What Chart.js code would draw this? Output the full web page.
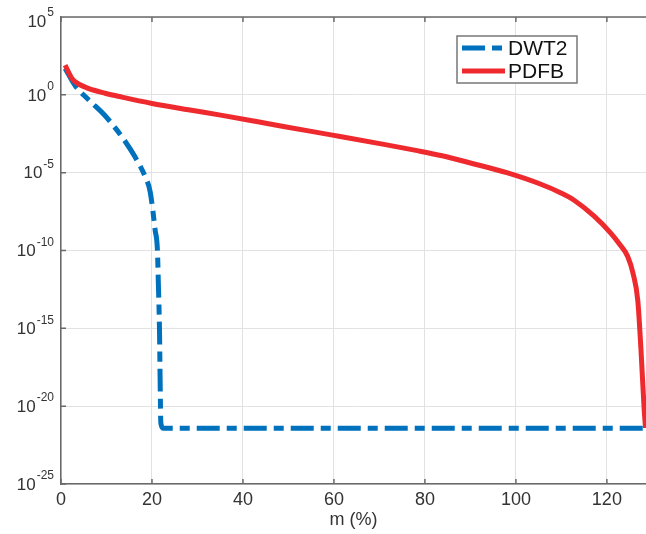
<!DOCTYPE html>
<html>
<head>
<meta charset="utf-8">
<script src="https://cdn.jsdelivr.net/npm/chart.js@4/dist/chart.umd.min.js"></script>
<style>
  body { margin: 0; background: #fff; }
  canvas { display: block; }
</style>
</head>
<body>
<canvas id="chart-1" width="646" height="534"></canvas>
<script>
// m (%) and values for each transform
const mDwt2 = [0.9, 3.1, 6, 9.7, 13.4, 16.3, 18.5, 19.6, 20.7, 21.2, 21.4, 21.65, 21.8, 21.95, 22.5, 128.6];
const dwt2 = [50, 4, 0.5, 0.045, 2e-3, 1e-4, 5.5e-6, 6e-7, 2e-9, 1e-10, 8e-13, 8e-16, 3e-19, 8e-22, 3.8e-22, 3.8e-22];

const mPdfb = [0.9, 2.4, 3.1, 6, 9.7, 13.4, 20, 28, 35.4, 42.7, 48.9, 60, 71, 78.3, 83.5, 90, 98, 105.5, 109.9, 112.8, 117.2, 120.9, 122.8, 124.6, 125.8, 126.8, 127.5, 128.2, 128.5];
const pdfb = [80, 11.5, 6.9, 2.6, 1.26, 0.71, 0.28, 0.11, 0.048, 0.02, 9.3e-3, 2.5e-3, 6.6e-4, 2.6e-4, 1.26e-4, 4.2e-5, 1e-5, 1.8e-6, 5e-7, 1.7e-7, 1.6e-8, 1.26e-9, 2.5e-10, 4e-11, 3e-12, 6e-14, 4e-17, 6e-21, 4e-22];

const xTicks = [0, 20, 40, 60, 80, 100, 120];
const yExponents = [-25, -20, -15, -10, -5, 0, 5];

const FONT = "'Liberation Sans', Arial, Helvetica, sans-serif";

// box line, inward ticks, 10^n tick labels and the inline legend
const matlabAxes = {
  id: 'matlabAxes',
  afterDraw(chart) {
    const ctx = chart.ctx;
    const a = chart.chartArea;
    const sx = chart.scales.x, sy = chart.scales.y;
    ctx.save();
    ctx.strokeStyle = '#6a6a6a';
    ctx.lineWidth = 1.5;
    ctx.beginPath();
    ctx.moveTo(a.left, a.top);
    ctx.lineTo(a.right + 1, a.top);
    xTicks.forEach(v => {
      const px = sx.getPixelForValue(v);
      ctx.moveTo(px, a.bottom); ctx.lineTo(px, a.bottom - 5);
      ctx.moveTo(px, a.top); ctx.lineTo(px, a.top + 5);
    });
    sy.ticks.forEach(t => {
      const py = sy.getPixelForValue(t.value);
      ctx.moveTo(a.left, py); ctx.lineTo(a.left + 5, py);
    });
    ctx.stroke();

    // y tick labels as base 10 with a raised exponent
    ctx.fillStyle = '#333';
    ctx.textBaseline = 'middle';
    sy.ticks.forEach(t => {
      const e = String(Math.round(Math.log10(t.value)));
      let py = sy.getPixelForValue(t.value) + 1;
      if (py < 22) py = 22;
      ctx.font = '12px ' + FONT;
      ctx.textAlign = 'right';
      const right = a.left - 7;
      ctx.fillText(e, right, py - 9);
      const ew = ctx.measureText(e).width;
      ctx.font = '17px ' + FONT;
      ctx.fillText('10', right - ew - 1, py);
    });

    // legend box
    const bx = 457, by = 36, bw = 120, bh = 47;
    ctx.fillStyle = '#fff';
    ctx.fillRect(bx, by, bw, bh);
    ctx.strokeStyle = '#777';
    ctx.lineWidth = 1.5;
    ctx.strokeRect(bx, by, bw, bh);
    ctx.font = '21px ' + FONT;
    ctx.textAlign = 'left';
    ctx.textBaseline = 'middle';
    ctx.fillStyle = '#111';
    chart.data.datasets.forEach((ds, i) => {
      const y = by + 12 + i * 23;
      ctx.strokeStyle = ds.borderColor;
      ctx.lineWidth = ds.borderWidth;
      ctx.setLineDash(ds.borderDash || []);
      ctx.beginPath();
      ctx.moveTo(bx + 5, y);
      ctx.lineTo(bx + 48, y);
      ctx.stroke();
      ctx.setLineDash([]);
      ctx.fillText(ds.label, bx + 51, y + 1);
    });
    ctx.restore();
  }
};

const ctx1 = document.getElementById('chart-1').getContext('2d');
const myChart1 = new Chart(ctx1, {
  type: 'line',
  data: {
    datasets: [
      {
        label: 'DWT2',
        data: mDwt2.map((m, i) => ({ x: m, y: dwt2[i] })),
        borderColor: '#0072BD',
        borderWidth: 5,
        borderDash: [23, 7, 10, 7],
        borderCapStyle: 'butt',
        pointRadius: 0,
        cubicInterpolationMode: 'monotone',
        order: 1
      },
      {
        label: 'PDFB',
        data: mPdfb.map((m, i) => ({ x: m, y: pdfb[i] })),
        borderColor: '#EE2A2E',
        borderWidth: 5,
        pointRadius: 0,
        cubicInterpolationMode: 'monotone',
        order: 0
      }
    ]
  },
  options: {
    responsive: false,
    animation: false,
    layout: { padding: { top: 17, right: 0, left: 0, bottom: 0 } },
    plugins: {
      legend: { display: false },
      tooltip: { enabled: false }
    },
    scales: {
      x: {
        type: 'linear',
        min: 0,
        max: 128.6,
        afterFit: s => { s.height = 50; },
        afterBuildTicks: s => { s.ticks = xTicks.map(v => ({ value: v })); },
        ticks: {
          includeBounds: false,
          padding: 5,
          color: '#333',
          font: { family: FONT, size: 18 }
        },
        grid: { color: '#e2e2e2', lineWidth: 1, drawTicks: false },
        border: { display: true, color: '#6a6a6a', width: 1.5 },
        title: {
          display: true,
          text: 'm (%)',
          color: '#333',
          font: { family: FONT, size: 18 },
          padding: { top: 0, bottom: 3 }
        }
      },
      y: {
        type: 'logarithmic',
        min: 1e-25,
        max: 1e5,
        afterFit: s => { s.width = 61; },
        afterBuildTicks: s => { s.ticks = yExponents.map(e => ({ value: Math.pow(10, e) })); },
        ticks: { display: false },
        grid: { color: '#e2e2e2', lineWidth: 1, drawTicks: false },
        border: { display: true, color: '#6a6a6a', width: 1.5 }
      }
    }
  },
  plugins: [matlabAxes]
});
</script>
</body>
</html>
